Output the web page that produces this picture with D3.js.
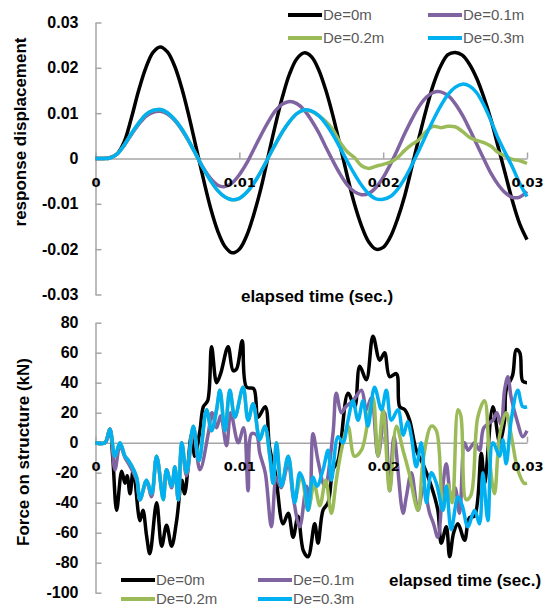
<!DOCTYPE html>
<html>
<head>
<meta charset="utf-8">
<script src="https://cdn.jsdelivr.net/npm/d3@7"></script>
<style>
  body { margin: 0; background: #fff; }
  svg { display: block; font-family: "Liberation Sans", Arial, sans-serif; }
</style>
</head>
<body>
<div class="chart"></div>
<script>
// legend / series
let seriesNames = ["De=0m", "De=0.1m", "De=0.2m", "De=0.3m"]
let seriesColors = ["#000000", "#8064a2", "#9bbb59", "#00b0f0"]

// ticks
let timeTicks = [0, 0.01, 0.02, 0.03]
let dispTicks = [-0.03, -0.02, -0.01, 0, 0.01, 0.02, 0.03]
let forceTicks = [-100, -80, -60, -40, -20, 0, 20, 40, 60, 80]

// top chart: displacement sampled every 0.5 ms (times in ms)
let dispTime = d3.range(0, 30.01, 0.5)
let dispBlack = [0, 0, 0.0002, 0.0010, 0.0037, 0.0090, 0.0150, 0.0200, 0.0234, 0.0246,
  0.0235, 0.0204, 0.0155, 0.0093, 0.0024, -0.0045, -0.0109, -0.0160, -0.0194, -0.0208,
  -0.0200, -0.0171, -0.0124, -0.0066, 0.0004, 0.0073, 0.0136, 0.0187, 0.0220, 0.0233,
  0.0225, 0.0197, 0.0152, 0.0095, 0.0029, -0.0038, -0.0100, -0.0149, -0.0184, -0.0200,
  -0.0196, -0.0173, -0.0133, -0.0082, -0.0018, 0.0047, 0.0109, 0.0164, 0.0204, 0.0229,
  0.0234, 0.0228, 0.0208, 0.0177, 0.0135, 0.0085, 0.0025, -0.0035, -0.0095, -0.0145, -0.0179]
let dispPurple = [0, 0, 0.0001, 0.0010, 0.0029, 0.0053, 0.0075, 0.0093, 0.0102, 0.0104,
  0.0098, 0.0084, 0.0063, 0.0037, 0.0008, -0.0021, -0.0044, -0.0059, -0.0062, -0.0054,
  -0.0036, -0.0011, 0.0020, 0.0051, 0.0080, 0.0105, 0.0120, 0.0126, 0.0121, 0.0107,
  0.0085, 0.0058, 0.0026, -0.0005, -0.0034, -0.0058, -0.0073, -0.0080, -0.0077, -0.0064,
  -0.0042, -0.0013, 0.0020, 0.0055, 0.0087, 0.0115, 0.0135, 0.0146, 0.0147, 0.0139,
  0.0121, 0.0096, 0.0065, 0.0032, -0.0001, -0.0033, -0.0058, -0.0076, -0.0086, -0.0085, -0.0073]
let dispGreen = [0, 0, 0.0001, 0.0010, 0.0030, 0.0055, 0.0078, 0.0097, 0.0106, 0.0108,
  0.0101, 0.0086, 0.0065, 0.0038, 0.0008, -0.0022, -0.0049, -0.0071, -0.0085, -0.0091,
  -0.0088, -0.0075, -0.0055, -0.0029, 0.0001, 0.0031, 0.0059, 0.0082, 0.0099, 0.0107,
  0.0104, 0.0095, 0.0082, 0.0064, 0.0036, 0.0015, 0.0002, -0.0016, -0.0022, -0.0017,
  -0.0013, -0.0008, 0.0002, 0.0018, 0.0031, 0.0042, 0.0060, 0.0071, 0.0068, 0.0071,
  0.0070, 0.0060, 0.0047, 0.0040, 0.0035, 0.0027, 0.0013, 0.0005, -0.0002, -0.0005, -0.0011]
let dispCyan = [0, 0, 0.0001, 0.0010, 0.0030, 0.0055, 0.0078, 0.0097, 0.0106, 0.0108,
  0.0101, 0.0086, 0.0065, 0.0038, 0.0008, -0.0022, -0.0049, -0.0071, -0.0085, -0.0091,
  -0.0088, -0.0075, -0.0055, -0.0029, 0.0001, 0.0031, 0.0059, 0.0082, 0.0099, 0.0107,
  0.0105, 0.0095, 0.0077, 0.0053, 0.0024, -0.0006, -0.0034, -0.0059, -0.0078, -0.0089,
  -0.0090, -0.0084, -0.0068, -0.0044, -0.0014, 0.0019, 0.0053, 0.0086, 0.0116, 0.0141,
  0.0157, 0.0164, 0.0160, 0.0145, 0.0118, 0.0083, 0.0044, 0.0012, -0.0020, -0.0055, -0.0084]

// bottom chart: force, [time ms, kN]
let forceBlack = [[0, 0], [0.66, 0], [1.0, 9], [1.2, -10], [1.47, -45], [1.82, -19], [2.05, -27], [2.2, -22],
  [2.4, -34], [2.63, -18], [3.09, -52], [3.3, -45], [3.55, -62], [3.78, -74], [4.25, -40], [4.6, -69],
  [4.94, -55], [5.29, -69], [5.64, -52], [6.0, -25], [6.2, -34], [6.68, 6], [6.9, -9], [7.26, 8],
  [7.5, 24], [7.8, 28], [8.07, 64], [8.42, 40], [8.7, 46], [9.22, 64], [9.57, 48], [9.8, 49],
  [10.2, 68], [10.5, 37], [11.0, 36], [11.3, 17], [11.8, 24], [12.1, -3], [12.5, -20], [13.04, -54],
  [13.4, -47], [13.74, -63], [14.08, -49], [14.45, -72], [14.78, -76], [15.24, -54], [15.47, -67], [15.82, -45],
  [16.17, -40], [16.51, -18], [16.86, -12], [17.56, 33], [18.02, 24], [18.37, 51], [18.83, 42], [19.29, 71],
  [19.76, 55], [20.1, 60], [20.45, 44], [20.92, 46], [21.15, 24], [21.5, 22], [21.84, 15], [22.3, -5],
  [22.8, -15], [23.35, -29], [23.8, -45], [24.04, -67], [24.39, -56], [24.62, -76], [24.9, -60], [25.2, -54],
  [25.66, -65], [26.0, -50], [26.35, -49], [26.82, -7], [27.05, -27], [27.63, 24], [28.1, 0], [28.44, 15],
  [28.55, 35], [29.0, 45], [29.25, 62], [29.5, 60], [29.7, 41], [30, 40]]
let forcePurple = [[0, 0], [0.66, 0], [1.0, 9], [1.35, -18], [1.7, -2], [2.05, -10], [2.3, -14], [2.86, -25],
  [3.09, -38], [3.55, -26], [3.9, -36], [4.25, -9], [4.71, -36], [4.94, -18], [5.29, -30], [5.52, -18],
  [5.75, -38], [6.0, -3], [6.33, -22], [6.8, 8], [7.26, -18], [7.84, 6], [8.1, 20], [8.42, 10],
  [8.7, 18], [9.11, -2], [9.4, 20], [9.92, 0], [10.3, 10], [10.61, -32], [10.85, 6], [11.2, 5],
  [11.42, -7], [11.8, -20], [12.23, -56], [12.58, -23], [12.9, -30], [13.4, -14], [13.74, -36], [14.2, -56],
  [14.67, -29], [14.9, -40], [15.12, 6], [15.47, -12], [15.94, -29], [16.51, 6], [16.74, 33], [17.09, 20],
  [17.4, 24], [17.9, 28], [18.49, 35], [18.83, 22], [19.18, 30], [19.64, -9], [20.1, 20], [20.45, -32],
  [20.75, 4], [21.38, -47], [21.61, -36], [21.96, -20], [22.42, -45], [22.8, -30], [23.23, -47], [23.5, -54],
  [23.8, -63], [24.15, -29], [24.39, -14], [24.73, -38], [25.0, -30], [25.31, -47], [25.66, 0], [25.9, -5],
  [26.35, 0], [26.7, -5], [27.0, 10], [27.63, 15], [27.9, 20], [28.2, 12], [28.44, 35], [28.67, 44],
  [28.9, 30], [29.36, 13], [29.7, 4], [30, 8]]
let forceGreen = [[0, 0], [0.66, 0], [1.0, 9], [1.35, -9], [1.7, 0], [2.05, -9], [2.3, -12], [2.86, -23],
  [3.09, -38], [3.55, -25], [3.9, -34], [4.25, -9], [4.71, -38], [4.94, -18], [5.29, -29], [5.52, -16],
  [5.75, -38], [6.0, 0], [6.33, -20], [6.8, 11], [7.2, -12], [7.72, 22], [8.07, 8], [8.42, 22],
  [8.65, 35], [9.0, 8], [9.34, 35], [9.69, 17], [10.26, 37], [10.61, 15], [10.96, 26], [11.42, 2],
  [11.77, 11], [12.12, -9], [12.35, -27], [12.58, 0], [12.93, -29], [13.4, -9], [13.85, -38], [14.3, -22],
  [14.78, -45], [15.2, -28], [15.6, -42], [16.0, -25], [16.4, -47], [16.74, -25], [17.1, -5], [17.56, 11],
  [18.0, -9], [18.49, -5], [19.06, 22], [19.3, 30], [19.64, -9], [19.99, 22], [20.45, -32], [20.92, 11],
  [21.38, -5], [21.8, -20], [22.42, -45], [22.8, -10], [23.35, 11], [23.7, 8], [24.15, -45], [24.5, -28],
  [24.8, -40], [25.2, 22], [25.4, 18], [25.77, -38], [26.1, -35], [26.58, 17], [27.05, 28], [27.4, -12],
  [27.74, -34], [28.1, 5], [28.55, 20], [28.9, 5], [29.36, -18], [29.8, -27], [30, -27]]
let forceCyan = [[0, 0], [0.66, 0], [1.0, 9], [1.35, -9], [1.7, 0], [2.05, -9], [2.3, -12], [2.86, -23],
  [3.09, -38], [3.55, -25], [3.9, -34], [4.25, -9], [4.71, -38], [4.94, -18], [5.29, -29], [5.52, -16],
  [5.75, -38], [6.0, 0], [6.33, -20], [6.8, 11], [7.2, -12], [7.72, 22], [8.07, 8], [8.42, 22],
  [8.65, 35], [9.0, 8], [9.34, 35], [9.69, 17], [10.26, 37], [10.61, 15], [10.96, 26], [11.42, 2],
  [11.77, 11], [12.12, -9], [12.35, -27], [12.58, 0], [12.93, -29], [13.4, -9], [13.85, -40], [14.2, -20],
  [14.5, -27], [14.78, -45], [15.12, -23], [15.4, -29], [15.82, -18], [16.17, -5], [16.4, -25], [16.86, 4],
  [17.2, 0], [17.56, 15], [17.9, 28], [18.25, 15], [18.6, 28], [18.94, 11], [19.4, 37], [19.88, 22],
  [20.22, 35], [20.57, 15], [21.03, 22], [21.4, 5], [21.7, 14], [21.96, 4], [22.3, -16], [22.65, 0],
  [23.0, -40], [23.35, -20], [23.7, -27], [24.15, -45], [24.39, -29], [24.73, -58], [25.2, -36], [25.5, -42],
  [25.89, -56], [26.35, -45], [26.7, -54], [26.93, -20], [27.28, -52], [27.63, 0], [28.1, -9], [28.32, 2],
  [28.55, -14], [28.9, 15], [29.36, 35], [29.7, 24], [30, 24]]

let svg = d3.select(".chart")
  .append("svg")
  .attr("width", 549)
  .attr("height", 608)

let axisColor = "#a6a6a6"

let drawPanel = (x, y, yTicks, series, curve) => {
  let g = svg.append("g")

  let yAxis = g.append("g")
    .attr("transform", `translate(${x.range()[0]},0)`)
    .call(d3.axisLeft(y).tickValues(yTicks).tickSize(-6).tickSizeOuter(0).tickPadding(17).tickFormat(d => String(d)))
  yAxis.selectAll("path, line").attr("stroke", axisColor).attr("stroke-width", 1.5)
  yAxis.selectAll("text")
    .attr("fill", "#000")
    .style("font-family", "'Liberation Sans', Arial, sans-serif")
    .style("font-size", "16px")
    .style("font-weight", "bold")

  // zero line + ticks under the curves
  let xAxis = d3.axisBottom(x).tickValues(timeTicks).tickSize(-6).tickSizeOuter(0).tickPadding(19).tickFormat(d => String(d))
  let xLine = g.append("g")
    .attr("transform", `translate(0,${y(0)})`)
    .call(xAxis)
  xLine.selectAll("path, line").attr("stroke", axisColor).attr("stroke-width", 1.5)
  xLine.selectAll("text").remove()

  let line = d3.line()
    .x(d => x(d[0] / 1000))
    .y(d => y(d[1]))
    .curve(curve)

  g.selectAll(".series")
    .data(series)
    .enter()
    .append("path")
    .attr("class", "series")
    .attr("fill", "none")
    .attr("stroke", (d, i) => seriesColors[i])
    .attr("stroke-width", 3.5)
    .attr("stroke-linejoin", "round")
    .attr("d", d => line(d))

  // x tick labels on top of the curves
  let xLabels = g.append("g")
    .attr("transform", `translate(0,${y(0)})`)
    .call(xAxis)
  xLabels.selectAll("path, line").remove()
  xLabels.selectAll("text")
    .attr("fill", "#000")
    .style("font-family", "'DejaVu Sans', Verdana, sans-serif")
    .style("font-size", "13px")
    .style("font-weight", "bold")
}

let drawLegend = (rows, cols) => {
  seriesNames.forEach((name, i) => {
    let lx = cols[i % 2], ly = rows[Math.floor(i / 2)]
    svg.append("line")
      .attr("x1", lx).attr("x2", lx + 34)
      .attr("y1", ly).attr("y2", ly)
      .attr("stroke", seriesColors[i])
      .attr("stroke-width", 4)
    svg.append("text")
      .attr("x", lx + 35)
      .attr("y", ly)
      .attr("dy", "0.35em")
      .attr("fill", "#595959")
      .style("font-size", "15px")
      .text(name)
  })
}

let addTitle = (txt, x, y, rotate) => {
  svg.append("text")
    .attr("transform", `translate(${x},${y})` + (rotate ? " rotate(-90)" : ""))
    .attr("text-anchor", "middle")
    .attr("fill", "#000")
    .style("font-size", "17px")
    .style("font-weight", "bold")
    .text(txt)
}

// top: response displacement
let xTop = d3.scaleLinear().domain([0, 0.03]).range([95.5, 527])
let yTop = d3.scaleLinear().domain([-0.03, 0.03]).range([294.5, 22.5])
let toPairs = vals => dispTime.map((t, i) => [t, vals[i]])
drawPanel(xTop, yTop, dispTicks,
  [dispBlack, dispPurple, dispGreen, dispCyan].map(toPairs),
  d3.curveCatmullRom)
drawLegend([15, 38], [288, 428])
addTitle("response displacement", 26, 132, true)
addTitle("elapsed time (sec.)", 317, 302, false)

// bottom: force on structure
let xBot = d3.scaleLinear().domain([0, 0.03]).range([95.5, 527])
let yBot = d3.scaleLinear().domain([-100, 80]).range([592.7, 322.7])
drawPanel(xBot, yBot, forceTicks,
  [forceBlack, forcePurple, forceGreen, forceCyan],
  d3.curveCatmullRom.alpha(0.5))
drawLegend([580, 599], [121, 258])
addTitle("Force on structure (kN)", 29, 452, true)
addTitle("elapsed time (sec.)", 465, 586, false)
</script>
</body>
</html>
